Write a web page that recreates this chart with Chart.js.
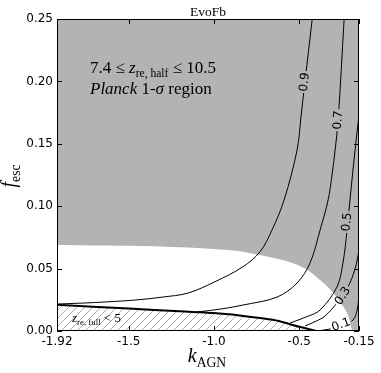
<!DOCTYPE html>
<html>
<head>
<meta charset="utf-8">
<script src="https://cdn.jsdelivr.net/npm/chart.js@4"></script>
<style>
  html, body { margin: 0; padding: 0; background: #fff; }
</style>
</head>
<body>
<canvas id="evo-chart" width="381" height="373"></canvas>
<script>
var xTicks = [-1.92, -1.5, -1.0, -0.5, -0.15];
var xTickLabels = ['-1.92', '-1.5', '-1.0', '-0.5', '-0.15'];
var yTicks = [0, 0.05, 0.10, 0.15, 0.20, 0.25];
var yTickLabels = ['0.00', '0.05', '0.10', '0.15', '0.20', '0.25'];

// edge of the allowed (white) region
var whiteX = [-1.92, -1.5, -1.2, -1.0, -0.85, -0.77, -0.65, -0.54, -0.45, -0.38, -0.32, -0.28, -0.25, -0.22, -0.2, -0.19];
var whiteY = [0.069, 0.0683, 0.0672, 0.0658, 0.064, 0.0618, 0.0585, 0.0545, 0.0487, 0.041, 0.0335, 0.027, 0.021, 0.0144, 0.0055, 0];

// z_re,full < 5 boundary
var fullX = [-1.92, -1.5, -1.2, -1.0, -0.85, -0.73, -0.62, -0.54, -0.47, -0.4];
var fullY = [0.021, 0.018, 0.0158, 0.0144, 0.0125, 0.0104, 0.008, 0.0048, 0.0024, 0];

// contours
var contourLevels = ['0.9', '0.7', '0.5', '0.3', '0.1'];
var c09X = [-1.92, -1.70, -1.463, -1.30, -1.152, -0.994, -0.830, -0.730, -0.660, -0.589, -0.513, -0.490, -0.467, -0.424];
var c09Y = [0.0216, 0.0228, 0.0248, 0.0272, 0.0304, 0.0395, 0.0515, 0.0635, 0.0809, 0.105, 0.145, 0.1715, 0.1995, 0.25];
var c07X = [-1.099, -0.95, -0.830, -0.630, -0.513, -0.437, -0.378, -0.331, -0.308, -0.290, -0.273, -0.237];
var c07Y = [0.0152, 0.0178, 0.0208, 0.0272, 0.0385, 0.0545, 0.0809, 0.105, 0.125, 0.145, 0.1675, 0.25];
var c05X = [-0.554, -0.45, -0.378, -0.279, -0.244, -0.220, -0.203, -0.173, -0.150];
var c05Y = [0.0064, 0.0118, 0.0168, 0.0353, 0.0545, 0.0809, 0.105, 0.145, 0.1731];
var c03X = [-0.466, -0.40, -0.349, -0.279, -0.244, -0.203, -0.167, -0.150];
var c03Y = [0.0040, 0.0080, 0.0120, 0.0224, 0.0288, 0.0385, 0.0529, 0.0649];
var c01X = [-0.396, -0.320, -0.244, -0.185, -0.161, -0.150];
var c01Y = [0, 0.0016, 0.0040, 0.0088, 0.0168, 0.0288];

// where the contour labels sit (data coords + angle in degrees)
var labelSpots = [
  { x: -0.468, y: 0.1995, a: 83 },
  { x: -0.271, y: 0.169, a: 86 },
  { x: -0.219, y: 0.0873, a: 84 },
  { x: -0.244, y: 0.028, a: 57 },
  { x: -0.255, y: 0.0048, a: 20 }
];

var SERIF = '"Liberation Serif", "DejaVu Serif", serif';
var SANS = '"DejaVu Sans", sans-serif';

function pts(xs, ys) {
  return xs.map(function(x, i) { return { x: x, y: ys[i] }; });
}

function makeHatch() {
  var c = document.createElement('canvas');
  c.width = 8; c.height = 8;
  var g = c.getContext('2d');
  g.strokeStyle = '#999999';
  g.lineWidth = 0.8;
  g.beginPath();
  g.moveTo(0, 8); g.lineTo(8, 0);
  g.moveTo(-1, 1); g.lineTo(1, -1);
  g.moveTo(7, 9); g.lineTo(9, 7);
  g.stroke();
  return g.createPattern(c, 'repeat');
}

function drawParts(ctx, parts, x, y, size, align) {
  function font(p) {
    var s = p.sub ? size * 0.68 : size;
    return (p.i ? 'italic ' : '') + s + 'px ' + SERIF;
  }
  var total = 0;
  parts.forEach(function(p) {
    ctx.font = font(p);
    p.w = ctx.measureText(p.t).width;
    total += p.w;
  });
  var cx = align === 'center' ? x - total / 2 : x;
  ctx.textAlign = 'left';
  ctx.textBaseline = 'alphabetic';
  parts.forEach(function(p) {
    ctx.font = font(p);
    ctx.fillText(p.t, cx, y + (p.sub ? size * 0.25 : 0));
    cx += p.w;
  });
}

function contour(xs, ys, idx) {
  return {
    data: pts(xs, ys),
    borderColor: '#000',
    borderWidth: 1,
    pointRadius: 0,
    fill: false,
    tension: 0.35,
    labelIndex: idx,
    order: 1
  };
}

var extras = {
  id: 'extras',
  beforeDatasetsDraw: function(chart) {
    var a = chart.chartArea, ctx = chart.ctx;
    ctx.save();
    ctx.fillStyle = '#b3b3b3';
    ctx.fillRect(a.left, a.top, a.right - a.left, a.bottom - a.top);
    ctx.restore();
  },
  beforeDatasetDraw: function(chart, args) {
    var ds = chart.data.datasets[args.index];
    if (ds.labelIndex == null) return;
    var s = labelSpots[ds.labelIndex], ctx = chart.ctx;
    var px = chart.scales.x.getPixelForValue(s.x);
    var py = chart.scales.y.getPixelForValue(s.y);
    var t = -s.a * Math.PI / 180, c = Math.cos(t), n = Math.sin(t);
    var w = 11, h = 6;
    var corners = [[-w, -h], [w, -h], [w, h], [-w, h]];
    ctx.save();
    ctx.beginPath();
    ctx.rect(0, 0, chart.width, chart.height);
    corners.forEach(function(p, i) {
      var qx = px + p[0] * c - p[1] * n, qy = py + p[0] * n + p[1] * c;
      if (i === 0) ctx.moveTo(qx, qy); else ctx.lineTo(qx, qy);
    });
    ctx.closePath();
    ctx.clip('evenodd');
  },
  afterDatasetDraw: function(chart, args) {
    var ds = chart.data.datasets[args.index];
    if (ds.labelIndex == null) return;
    chart.ctx.restore();
  },
  afterDraw: function(chart) {
    var a = chart.chartArea, ctx = chart.ctx;
    var xs = chart.scales.x, ys = chart.scales.y;
    ctx.save();

    // contour labels
    ctx.fillStyle = '#000';
    ctx.font = '12px ' + SANS;
    ctx.textAlign = 'center';
    ctx.textBaseline = 'middle';
    labelSpots.forEach(function(s, i) {
      ctx.save();
      ctx.translate(xs.getPixelForValue(s.x), ys.getPixelForValue(s.y));
      ctx.rotate(-s.a * Math.PI / 180);
      ctx.fillText(contourLevels[i], 0, 0);
      ctx.restore();
    });

    // frame + inward ticks
    ctx.strokeStyle = '#000';
    ctx.lineWidth = 1;
    ctx.strokeRect(a.left + 0.5, a.top + 0.5, a.right - a.left - 1, a.bottom - a.top - 1);
    ctx.beginPath();
    xTicks.forEach(function(v) {
      var p = Math.round(xs.getPixelForValue(v)) + 0.5;
      ctx.moveTo(p, a.bottom); ctx.lineTo(p, a.bottom - 5);
      ctx.moveTo(p, a.top); ctx.lineTo(p, a.top + 5);
    });
    yTicks.forEach(function(v) {
      var p = Math.round(ys.getPixelForValue(v)) + 0.5;
      ctx.moveTo(a.left, p); ctx.lineTo(a.left + 5, p);
      ctx.moveTo(a.right, p); ctx.lineTo(a.right - 5, p);
    });
    ctx.stroke();

    // texts
    ctx.fillStyle = '#000';
    ctx.font = '13.5px ' + SERIF;
    ctx.textAlign = 'center';
    ctx.textBaseline = 'alphabetic';
    ctx.fillText('EvoFb', (a.left + a.right) / 2, 16);

    drawParts(ctx, [{ t: '7.4 ≤ ' }, { t: 'z', i: true }, { t: 're, half', sub: true }, { t: ' ≤ 10.5' }], 90, 73, 17, 'left');
    drawParts(ctx, [{ t: 'Planck', i: true }, { t: ' 1-' }, { t: 'σ', i: true }, { t: ' region' }], 90, 94, 17, 'left');
    drawParts(ctx, [{ t: 'z', i: true }, { t: 're, full', sub: true }, { t: ' < 5' }], 72, 322, 13, 'left');

    drawParts(ctx, [{ t: 'k', i: true }, { t: 'AGN', sub: true }], 207, 362, 20, 'center');
    ctx.save();
    ctx.translate(15, 176);
    ctx.rotate(-Math.PI / 2);
    drawParts(ctx, [{ t: 'f', i: true }, { t: 'esc', sub: true }], 0, 0, 20, 'center');
    ctx.restore();

    ctx.restore();
  }
};

var config = {
  type: 'line',
  data: {
    datasets: [
      {
        data: pts(whiteX, whiteY),
        borderWidth: 0,
        borderColor: 'rgba(0,0,0,0)',
        backgroundColor: '#ffffff',
        fill: 'origin',
        pointRadius: 0,
        tension: 0.35,
        order: 10
      },
      {
        data: pts(fullX, fullY),
        borderWidth: 2,
        borderColor: '#000',
        backgroundColor: makeHatch(),
        fill: 'origin',
        pointRadius: 0,
        tension: 0.35,
        order: 5
      },
      contour(c09X, c09Y, 0),
      contour(c07X, c07Y, 1),
      contour(c05X, c05Y, 2),
      contour(c03X, c03Y, 3),
      contour(c01X, c01Y, 4)
    ]
  },
  options: {
    responsive: false,
    animation: false,
    layout: { padding: { top: 19, right: 22, left: 0, bottom: 0 } },
    plugins: {
      legend: { display: false },
      tooltip: { enabled: false },
      title: { display: false }
    },
    scales: {
      x: {
        type: 'linear',
        min: -1.92,
        max: -0.15,
        afterBuildTicks: function(s) { s.ticks = xTicks.map(function(v) { return { value: v }; }); },
        afterFit: function(s) { s.height = 42; },
        grid: { display: false, drawTicks: false },
        border: { display: false },
        ticks: {
          autoSkip: false,
          maxRotation: 0,
          padding: 4,
          color: '#000',
          font: { family: SANS, size: 12 },
          callback: function(v, i) { return xTickLabels[i]; }
        }
      },
      y: {
        type: 'linear',
        min: 0,
        max: 0.25,
        afterBuildTicks: function(s) { s.ticks = yTicks.map(function(v) { return { value: v }; }); },
        afterFit: function(s) { s.width = 57; },
        grid: { display: false, drawTicks: false },
        border: { display: false },
        ticks: {
          autoSkip: false,
          padding: 4,
          color: '#000',
          font: { family: SANS, size: 12 },
          callback: function(v, i) { return yTickLabels[i]; }
        }
      }
    }
  },
  plugins: [extras]
};

var ctx = document.getElementById('evo-chart').getContext('2d');
var evoChart = new Chart(ctx, config);
</script>
</body>
</html>
